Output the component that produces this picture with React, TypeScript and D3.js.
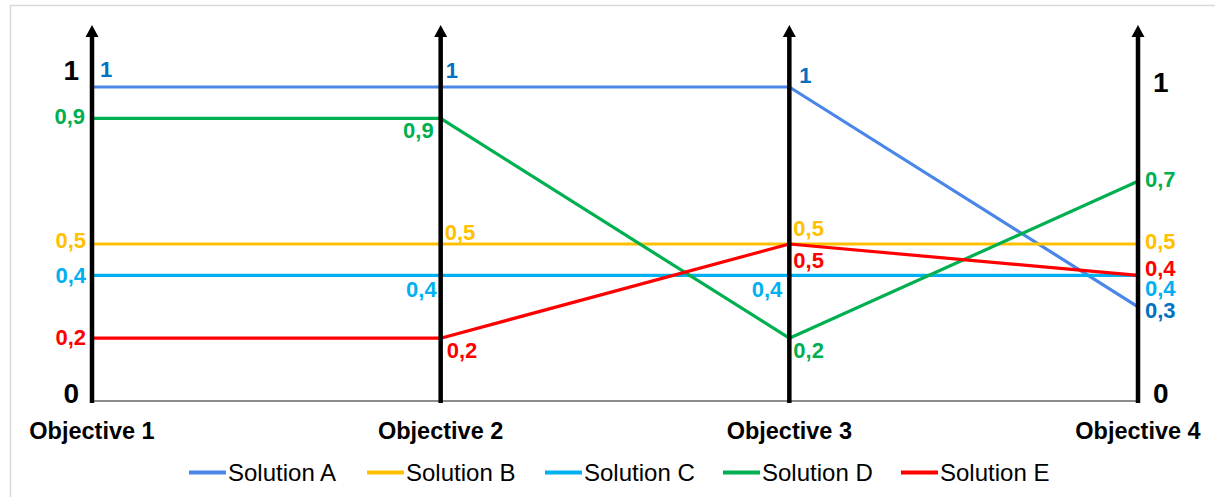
import React from "react";
import * as d3 from "d3";

const objectives = ["Objective 1", "Objective 2", "Objective 3", "Objective 4"];
const seriesNames = ["Solution A", "Solution B", "Solution C", "Solution D", "Solution E"];
const solutionA = [1, 1, 1, 0.3];
const solutionB = [0.5, 0.5, 0.5, 0.5];
const solutionC = [0.4, 0.4, 0.4, 0.4];
const solutionD = [0.9, 0.9, 0.2, 0.7];
const solutionE = [0.2, 0.2, 0.5, 0.4];
const axisTicks = [0, 1];

const seriesValues = [solutionA, solutionB, solutionC, solutionD, solutionE];
const lineColors = ["#4A86E8", "#FFC000", "#00B0F0", "#00B050", "#FF0000"];
const labelColors = ["#0070C0", "#FFC000", "#00B0F0", "#00B050", "#FF0000"];

// label placement per series per axis: [dx, dy, anchor]
const labelPlacement: [number, number, string][][] = [
  [[8, -10, "start"], [5, -9, "start"], [10, -4, "start"], [7, 11, "start"]],
  [[-6, 4, "end"], [4, -4, "start"], [4, -8, "start"], [7, 5, "start"]],
  [[-6, 8, "end"], [-4, 22, "end"], [-7, 22, "end"], [7, 21, "start"]],
  [[-7, 6, "end"], [-7, 20, "end"], [4, 20, "start"], [7, 6, "start"]],
  [[-6, 7, "end"], [6, 20, "start"], [4, 24, "start"], [7, 1, "start"]],
];

const W = 1215;
const H = 497;
const FONT = "'Liberation Sans', Arial, sans-serif";

export default function App() {
  const x = d3.scalePoint<string>().domain(objectives).range([92, 1138]);
  const y = d3.scaleLinear().domain([0, 1]).range([401, 87]);
  const line = d3
    .line<number>()
    .x((_, i) => x(objectives[i]) as number)
    .y((d) => y(d));
  const fmt = (v: number) => d3.format("~g")(v).replace(".", ",");

  const axisTop = 25;

  return (
    <svg
      width={W}
      height={H}
      style={{ position: "absolute", left: 0, top: 0, background: "#fff" }}
      fontFamily={FONT}
    >
      <rect x={10.5} y={5.5} width={W} height={H} fill="#fff" stroke="#d9d9d9" strokeWidth={1.5} />
      {/* baseline */}
      <line x1={x(objectives[0])} x2={x(objectives[3])} y1={y(0)} y2={y(0)} stroke="#8c8c8c" strokeWidth={2} />
      {/* series lines */}
      {seriesValues.map((vals, si) => (
        <path key={si} d={line(vals) as string} fill="none" stroke={lineColors[si]} strokeWidth={3.2} strokeLinejoin="round" />
      ))}
      {/* axes */}
      {objectives.map((o) => {
        const cx = x(o) as number;
        return (
          <g key={o}>
            <line x1={cx} x2={cx} y1={y(0) + 2} y2={axisTop + 8} stroke="#000" strokeWidth={4.5} />
            <path d={`M${cx},${axisTop} L${cx - 6.5},${axisTop + 12} L${cx + 6.5},${axisTop + 12} Z`} fill="#000" />
            <text x={cx} y={439} textAnchor="middle" fontWeight="bold" fontSize={23.5} fill="#000">
              {o}
            </text>
          </g>
        );
      })}
      {/* tick labels 0 and 1 on first and last axes */}
      {axisTicks.map((t) => (
        <g key={t}>
          <text x={(x(objectives[0]) as number) - 13} y={t === 1 ? 80 : 403} textAnchor="end" fontWeight="bold" fontSize={28}>
            {fmt(t)}
          </text>
          <text x={(x(objectives[3]) as number) + 15} y={t === 1 ? 92 : 403} textAnchor="start" fontWeight="bold" fontSize={28}>
            {fmt(t)}
          </text>
        </g>
      ))}
      {/* value labels */}
      {seriesValues.map((vals, si) =>
        vals.map((v, ai) => {
          const [dx, dy, anchor] = labelPlacement[si][ai];
          return (
            <text
              key={`${si}-${ai}`}
              x={(x(objectives[ai]) as number) + dx}
              y={y(v) + dy}
              textAnchor={anchor}
              fontWeight="bold"
              fontSize={22}
              fill={labelColors[si]}
            >
              {fmt(v)}
            </text>
          );
        })
      )}
      {/* legend */}
      {seriesNames.map((n, i) => {
        const lx = 189 + i * 178;
        return (
          <g key={n}>
            <line x1={lx} x2={lx + 37} y1={472.5} y2={472.5} stroke={lineColors[i]} strokeWidth={4} />
            <text x={lx + 39} y={481} fontSize={24} fill="#000">
              {n}
            </text>
          </g>
        );
      })}
    </svg>
  );
}
